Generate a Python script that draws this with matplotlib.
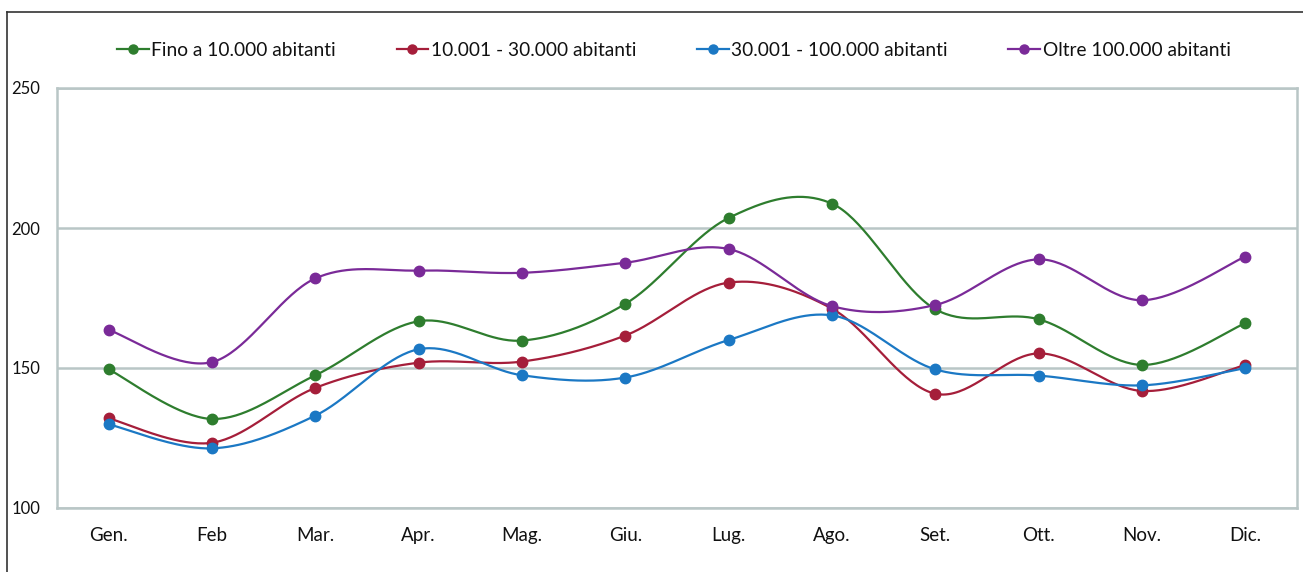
import numpy as np
import matplotlib
matplotlib.use("Agg")
import matplotlib.pyplot as plt
from matplotlib.lines import Line2D

plt.rcParams['font.family'] = ['Lato', 'DejaVu Sans']

# Data.
months = ["Gen.", "Feb", "Mar.", "Apr.", "Mag.", "Giu.", "Lug.", "Ago.", "Set.", "Ott.", "Nov.", "Dic."]
fino_10k = [149.5, 131.8, 147.4, 166.7, 159.8, 172.9, 203.6, 208.7, 171.0, 167.4, 151.1, 166.0]
da_10k_30k = [132.0, 123.3, 142.9, 151.9, 152.3, 161.6, 180.5, 171.2, 140.8, 155.2, 141.8, 151.1]
da_30k_100k = [129.9, 121.3, 133.0, 156.7, 147.4, 146.6, 160.0, 168.8, 149.5, 147.3, 143.8, 150.0]
oltre_100k = [163.6, 152.1, 182.0, 184.8, 184.0, 187.6, 192.5, 172.1, 172.5, 188.8, 174.2, 189.8]

series_names = ["Fino a 10.000 abitanti", "10.001 - 30.000 abitanti",
                "30.001 - 100.000 abitanti", "Oltre 100.000 abitanti"]
series_vals = [fino_10k, da_10k_30k, da_30k_100k, oltre_100k]
colors = ["#2E7D2E", "#A51E3A", "#1B78C4", "#7A2A98"]

grid_col = "#B9C6C6"
txt_col = "#111111"


def smooth(x, y, n=40):
    # Excel-like smoothed line (Catmull-Rom as cubic Bezier)
    x = np.asarray(x, float); y = np.asarray(y, float)
    px = np.concatenate([[x[0]], x, [x[-1]]])
    py = np.concatenate([[y[0]], y, [y[-1]]])
    xs, ys = [], []
    t = np.linspace(0, 1, n)
    for i in range(1, len(px) - 2):
        p0 = np.array([px[i], py[i]]); p3 = np.array([px[i+1], py[i+1]])
        c1 = p0 + (np.array([px[i+1], py[i+1]]) - np.array([px[i-1], py[i-1]])) / 6
        c2 = p3 - (np.array([px[i+2], py[i+2]]) - np.array([px[i], py[i]])) / 6
        b = ((1-t)**3)[:, None]*p0 + (3*(1-t)**2*t)[:, None]*c1 + (3*(1-t)*t**2)[:, None]*c2 + (t**3)[:, None]*p3
        xs.append(b[:, 0]); ys.append(b[:, 1])
    return np.concatenate(xs), np.concatenate(ys)


fig = plt.figure(figsize=(13.03, 5.72), dpi=100)
ax = fig.add_axes([57/1303, 1-508/572, (1297-57)/1303, (508-88)/572])

xpos = np.arange(len(months))
handles = []
for name, vals, c in zip(series_names, series_vals, colors):
    sx, sy = smooth(xpos, vals)
    ax.plot(sx, sy, color=c, lw=1.6, zorder=3)
    ax.plot(xpos, vals, 'o', color=c, ms=7.5, zorder=4)
    handles.append(Line2D([], [], color=c, lw=1.6, marker='o', ms=6.5))

ax.set_xlim(-0.5, len(months) - 0.5)
ax.set_ylim(100, 250)
ax.set_yticks([100, 150, 200, 250])
ax.set_xticks(xpos)
ax.set_xticklabels(months, fontsize=13.5, color=txt_col)
ax.set_yticklabels(["100", "150", "200", "250"], fontsize=12, color=txt_col)
ax.tick_params(axis='both', length=0)
ax.tick_params(axis='x', pad=14)
ax.tick_params(axis='y', pad=12)
ax.yaxis.grid(True, color=grid_col, lw=1.8)
ax.set_axisbelow(True)
for s in ax.spines.values():
    s.set_color(grid_col)
    s.set_linewidth(1.8)

leg = fig.legend(handles, series_names, loc='center', ncol=4, frameon=False,
                 bbox_to_anchor=(674/1303, 1-50/572), fontsize=13.8, handlelength=1.65,
                 handletextpad=0.15, columnspacing=3.15)
for t in leg.get_texts():
    t.set_color(txt_col)

# outer frame (top and left edges)
fig.add_artist(Line2D([7/1303, 1], [1-12/572, 1-12/572], color="#333333", lw=1.2, transform=fig.transFigure))
fig.add_artist(Line2D([7/1303, 7/1303], [0, 1-12/572], color="#333333", lw=1.2, transform=fig.transFigure))

fig.savefig("out.png", dpi=100)
